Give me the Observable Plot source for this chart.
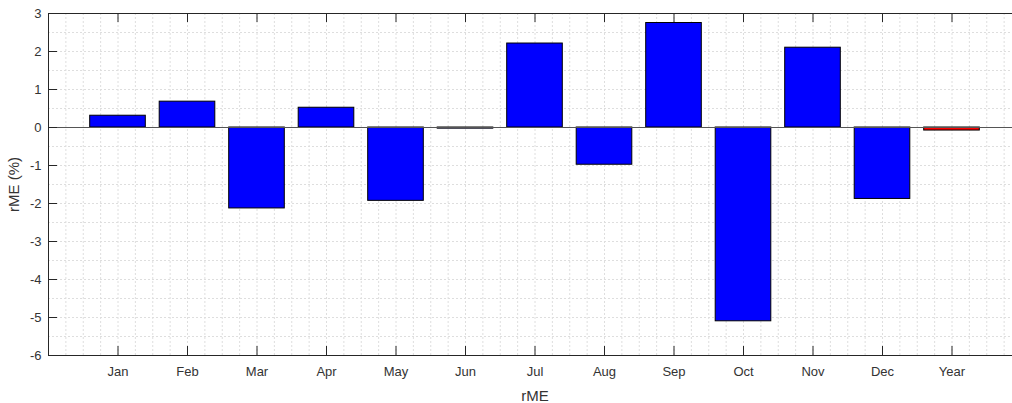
<!DOCTYPE html>
<html><head><meta charset="utf-8">
<script src="https://cdn.jsdelivr.net/npm/d3@7"></script>
<script src="https://cdn.jsdelivr.net/npm/@observablehq/plot@0.6"></script>
<style>body{margin:0;background:#fff;overflow:hidden}</style>
</head><body><div id="chart"></div>
<script>
const categories = ["Jan","Feb","Mar","Apr","May","Jun","Jul","Aug","Sep","Oct","Nov","Dec","Year"];
const values = [0.31, 0.68, -2.13, 0.52, -1.93, -0.03, 2.21, -0.98, 2.75, -5.10, 2.10, -1.88, -0.08];
const barColors = ["#0000ff","#0000ff","#0000ff","#0000ff","#0000ff","#0000ff","#0000ff","#0000ff","#0000ff","#0000ff","#0000ff","#0000ff","#ff0000"];
const positions = [1,2,3,4,5,6,7,8,9,10,11,12,13];
const yTicks = [-6,-5,-4,-3,-2,-1,0,1,2,3];

const data = categories.map((c, i) => ({cat: c, pos: positions[i], value: values[i], color: barColors[i]}));
const ink = "#262626";
const gridStyle = {stroke: "#dedede", strokeDasharray: "2,2", strokeWidth: 1};

const chart = Plot.plot({
  width: 1012, height: 403,
  marginLeft: 48, marginRight: -9, marginTop: 13, marginBottom: 48,
  style: {fontFamily: "'Liberation Sans', Arial, sans-serif", fontSize: "13px", color: "#333", background: "#fff"},
  x: {type: "linear", domain: [0, 14]},
  y: {domain: [-6, 3]},
  color: {type: "identity"},
  marks: [
    Plot.ruleX(d3.range(0, 14.001, 0.25), gridStyle),
    Plot.ruleY(d3.range(-6, 3.001, 0.5), gridStyle),
    Plot.rect(data, {x1: d => d.pos - 0.4, x2: d => d.pos + 0.4, y1: 0, y2: "value", fill: "color", stroke: "#000", strokeWidth: 1}),
    Plot.ruleY([0], {stroke: "#555"}),
    Plot.frame({stroke: ink}),
    Plot.ruleX(positions, {x: d => d, insetTop: 333, stroke: ink}),
    Plot.ruleX(positions, {x: d => d, insetBottom: 333, stroke: ink}),
    Plot.ruleY(yTicks, {y: d => d, insetRight: 964, stroke: ink}),
    Plot.ruleY(yTicks, {y: d => d, insetLeft: 964, stroke: ink}),
    Plot.axisX(positions, {tickSize: 0, tickPadding: 11, tickFormat: d => categories[d - 1], label: null, fontSize: 13}),
    Plot.axisX([], {tickSize: 0, label: "rME", labelArrow: "none", labelAnchor: "center", labelOffset: 45, fontSize: 15}),
    Plot.axisY(yTicks, {tickSize: 0, tickPadding: 7, tickFormat: d => String(d), label: null, fontSize: 13}),
    Plot.axisY([], {tickSize: 0, label: "rME (%)", labelArrow: "none", labelAnchor: "center", labelOffset: 40, fontSize: 15})
  ]
});
document.getElementById("chart").appendChild(chart);
</script>
</body></html>
